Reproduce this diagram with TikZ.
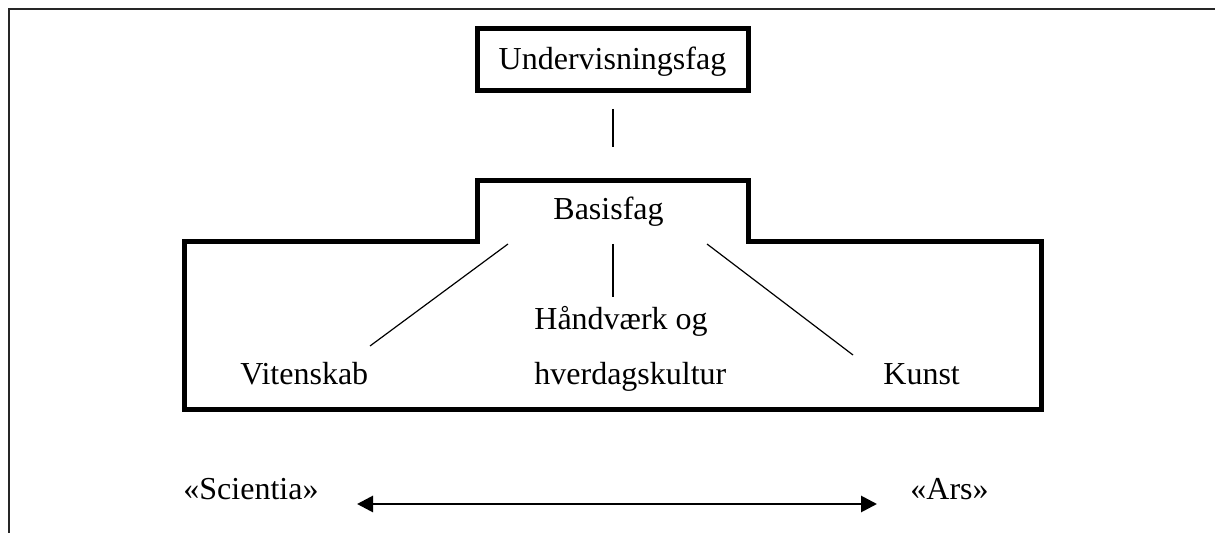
\documentclass[tikz,border=0pt]{standalone}
\usepackage{fontspec}
\setmainfont{Liberation Serif}
\usetikzlibrary{arrows.meta}
\begin{document}
\begin{tikzpicture}[x=0.5pt,y=-0.5pt,
  lbl/.style={anchor=base west,inner sep=0pt,font=\fontsize{16}{19}\selectfont},
  heavy/.style={line width=2.5pt},
  thinline/.style={line width=0.6pt},
  frameline/.style={line width=1pt,black!85}]
\useasboundingbox (0,0) rectangle (1215,533);
\clip (0,0) rectangle (1215,533);
% outer frame
\draw[frameline] (8.5,545) -- (8.5,9) -- (1230,9);
% top box
\node[draw,heavy,minimum width=135.5pt,minimum height=31pt,inner sep=0pt,
  text height=11.5pt,text depth=1.5pt,font=\fontsize{16}{19}\selectfont]
  (ufag) at (612.5,60) {Undervisningsfag};
% basis shape
\draw[heavy] (184,410) -- (184,241.5) -- (477,241.5) -- (477,181) -- (748.5,181)
  -- (748.5,241.5) -- (1041.5,241.5) -- (1041.5,410) -- cycle;
\node[lbl] (basis) at (553,220) {Basisfag};
% labels
\node[lbl] (vit) at (240,385) {Vitenskab};
\node[lbl] (hand) at (534,330) {Håndværk og};
\node[lbl] (hverd) at (534,385) {hverdagskultur};
\node[lbl] (kunst) at (883,385) {Kunst};
\node[lbl] (sci) at (183,500) {«Scientia»};
\node[lbl] (ars) at (910,500) {«Ars»};
% connector coordinates
\coordinate (u1) at (613,109);
\coordinate (u2) at (613,147);
\coordinate (bL) at (508,244);
\coordinate (bM) at (613,244);
\coordinate (bR) at (707,244);
\coordinate (eL) at (370,346);
\coordinate (eM) at (613,297);
\coordinate (eR) at (853,355);
\coordinate (aL) at (357,504);
\coordinate (aR) at (877,504);
\draw[thinline] (u1) -- (u2);
\draw[thinline] (bL) -- (eL);
\draw[thinline] (bM) -- (eM);
\draw[thinline] (bR) -- (eR);
\draw[line width=1.4pt,{Triangle[length=8pt,width=8pt]}-{Triangle[length=8pt,width=8pt]}] (aL) -- (aR);
\end{tikzpicture}
\end{document}
